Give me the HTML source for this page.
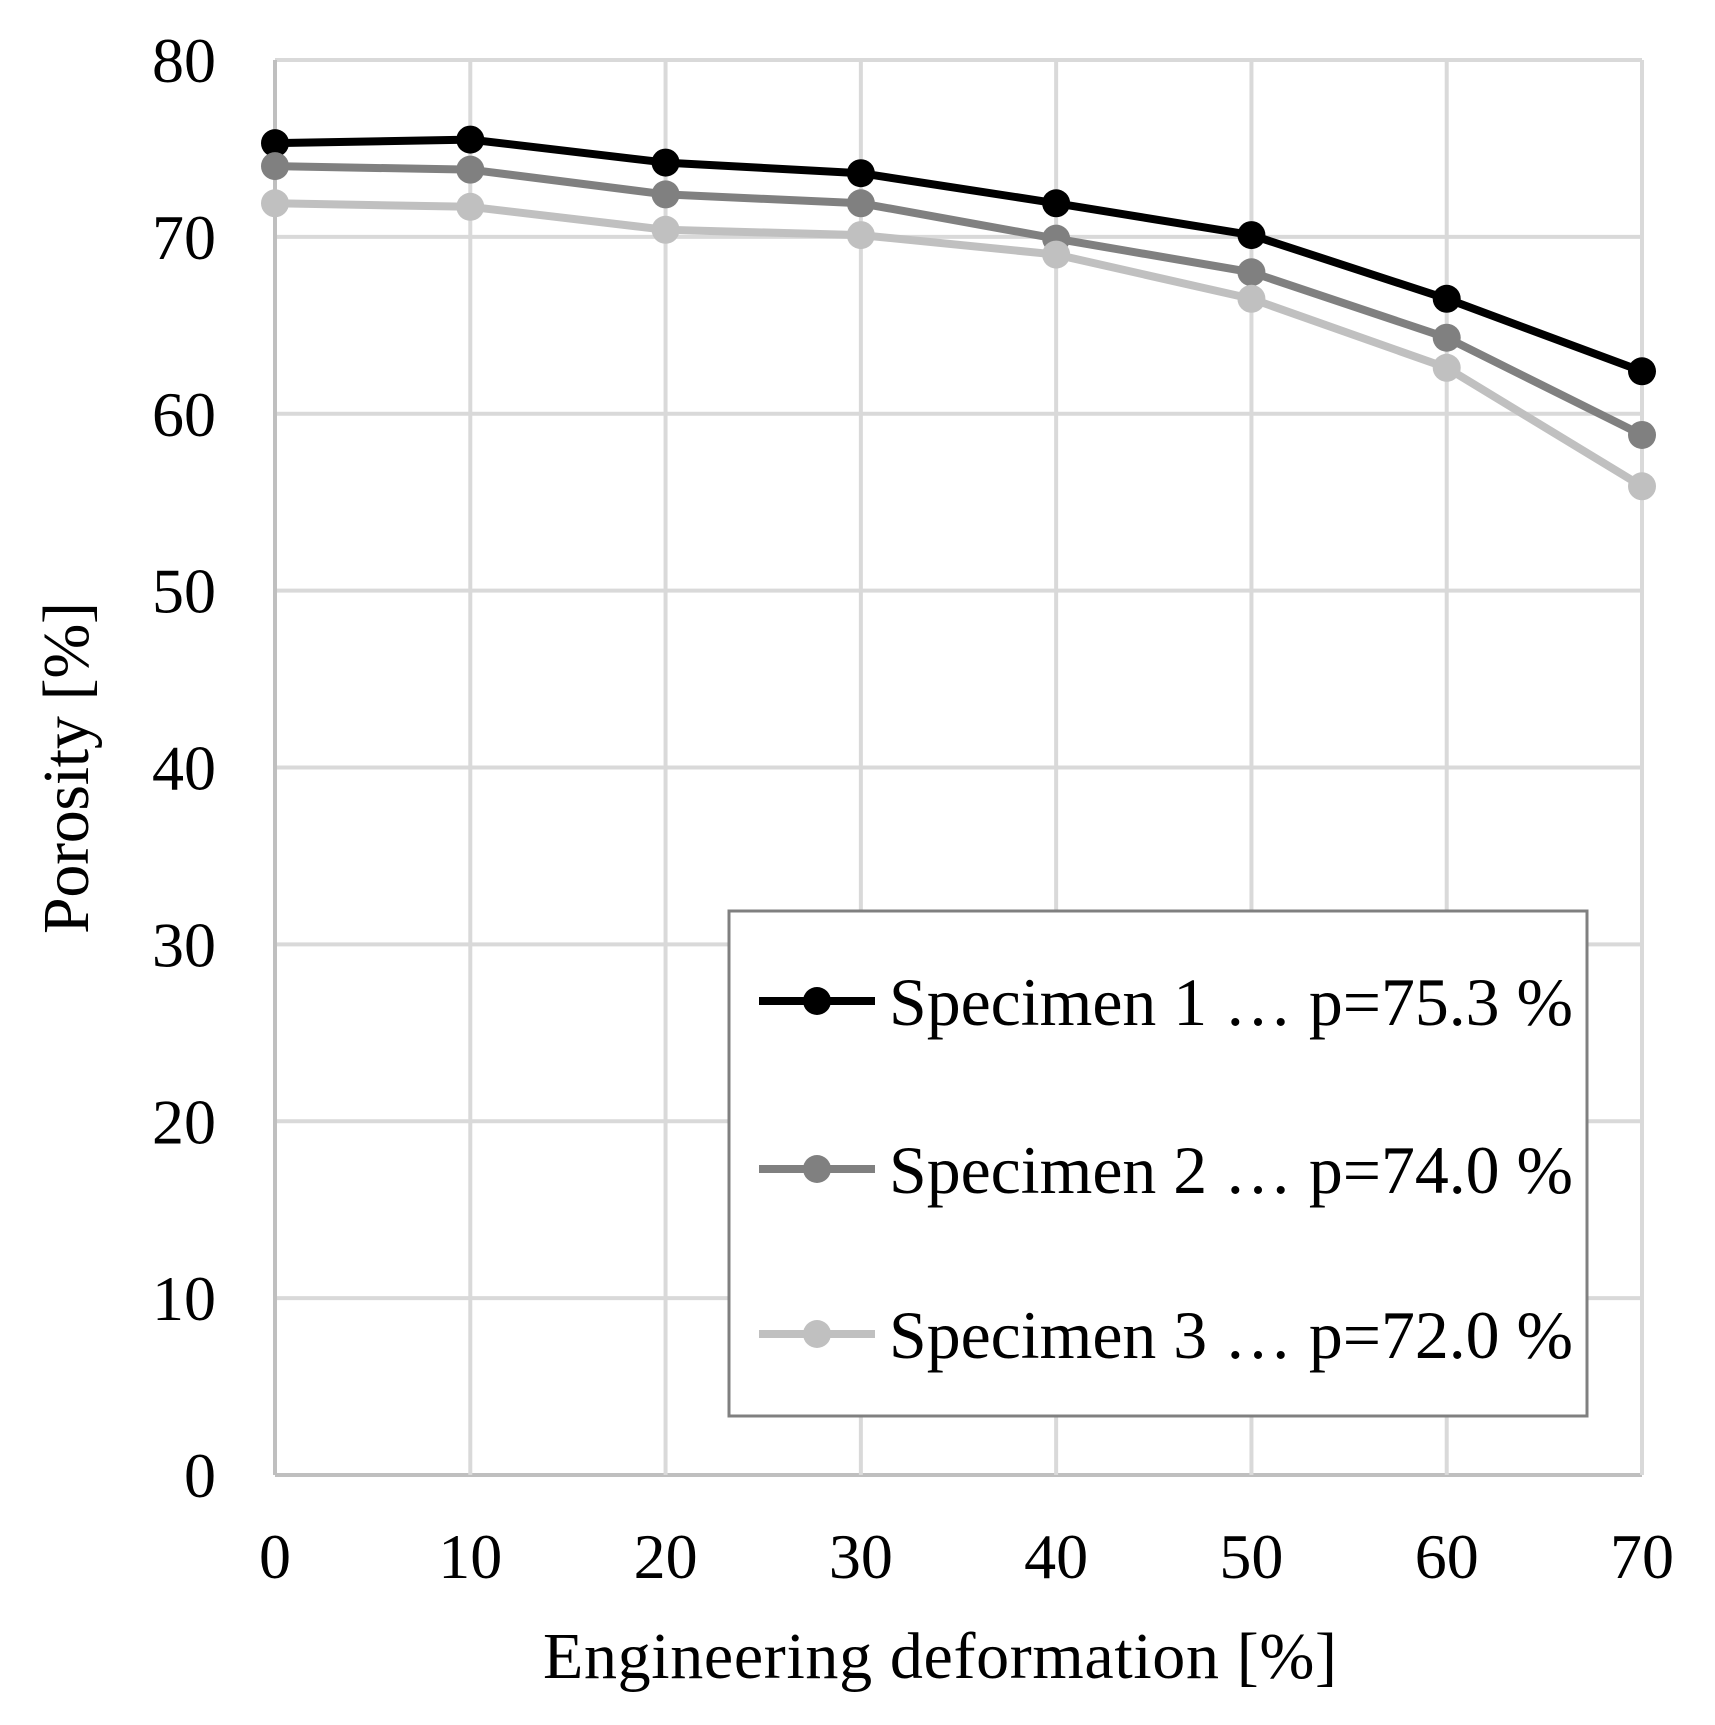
<!DOCTYPE html>
<html><head><meta charset="utf-8"><style>
html,body{margin:0;padding:0;background:#fff;}
svg{display:block;font-family:"Liberation Serif",serif;}
</style></head><body>
<svg id="chart" width="1715" height="1725" viewBox="0 0 1715 1725" xmlns="http://www.w3.org/2000/svg">
<g id="grid"></g>
<g id="axes"></g>
<g id="series"></g>
<g id="legend"></g>
</svg>
<script>
const xCategories = [0, 10, 20, 30, 40, 50, 60, 70];
const yTicks = [0, 10, 20, 30, 40, 50, 60, 70, 80];
const series1 = [75.3, 75.5, 74.2, 73.6, 71.9, 70.1, 66.5, 62.4];
const series2 = [74.0, 73.8, 72.4, 71.9, 69.9, 68.0, 64.3, 58.8];
const series3 = [71.9, 71.7, 70.4, 70.1, 69.0, 66.5, 62.6, 55.9];
const seriesNames = ["Specimen  1 … p=75.3 %", "Specimen  2 … p=74.0 %", "Specimen  3 … p=72.0 %"];

const NS = "http://www.w3.org/2000/svg";
const L = 275, R = 1642, T = 60, B = 1475;
function xs(v){ return L + (v - 0) / 70 * (R - L); }
function ys(v){ return B - (v - 0) / 80 * (B - T); }
function mk(tag, attrs, parent){ const e = document.createElementNS(NS, tag); for (const k in attrs) e.setAttribute(k, attrs[k]); parent.appendChild(e); return e; }

const grid = document.getElementById('grid');
const axes = document.getElementById('axes');
yTicks.forEach(v => {
  const ln = mk('line', {x1: L, x2: R, y1: ys(v), y2: ys(v), stroke: v === 0 ? '#bfbfbf' : '#d9d9d9', 'stroke-width': 4}, grid);
  
  
  const t = mk('text', {x: 216, y: ys(v) + 22, 'text-anchor': 'end', 'font-size': 64, fill: '#000'}, axes);
  t.textContent = v;
  
  
});
xCategories.forEach(v => {
  const ln = mk('line', {x1: xs(v), x2: xs(v), y1: T, y2: B, stroke: v === 0 ? '#bfbfbf' : '#d9d9d9', 'stroke-width': 4}, grid);
  
  
  const t = mk('text', {x: xs(v), y: 1578, 'text-anchor': 'middle', 'font-size': 64, fill: '#000'}, axes);
  t.textContent = v;
  
  
});
const xt = mk('text', {x: 940, y: 1678, 'text-anchor': 'middle', 'font-size': 66, fill: '#000', textLength: 794, lengthAdjust: 'spacing'}, axes);
xt.textContent = 'Engineering  deformation  [%]';


const yt = mk('text', {x: 0, y: 0, 'text-anchor': 'middle', 'font-size': 66, fill: '#000', textLength: 332, lengthAdjust: 'spacing', transform: 'translate(88,768) rotate(-90)'}, axes);
yt.textContent = 'Porosity [%]';



const colors = ['#000000', '#808080', '#c0c0c0'];
const allSeries = [series1, series2, series3];
const sg = document.getElementById('series');
allSeries.forEach((s, i) => {
  const g = mk('g', {}, sg);
  
  
  const pts = s.map((v, j) => xs(xCategories[j]) + ',' + ys(v)).join(' ');
  const pl = mk('polyline', {points: pts, fill: 'none', stroke: colors[i], 'stroke-width': 8, 'stroke-linejoin': 'round'}, g);
  
  
  s.forEach((v, j) => {
    const c = mk('circle', {cx: xs(xCategories[j]), cy: ys(v), r: 14, fill: colors[i]}, g);
    
    
  });
});

const lg = document.getElementById('legend');


const box = mk('rect', {x: 729, y: 911, width: 858, height: 505, fill: '#fff', stroke: '#808080', 'stroke-width': 3}, lg);


const ly = [1001, 1169, 1334];
seriesNames.forEach((nm, i) => {
  const g = mk('g', {}, lg);
  
  
  mk('line', {x1: 759, x2: 875, y1: ly[i], y2: ly[i], stroke: colors[i], 'stroke-width': 8}, g);
  mk('circle', {cx: 817, cy: ly[i], r: 14, fill: colors[i]}, g);
  const t = mk('text', {x: 889, y: ly[i] + 24, 'font-size': 68, fill: '#000', textLength: 684, lengthAdjust: 'spacingAndGlyphs'}, g);
  t.textContent = nm;
  
  
});
</script>
</body></html>
